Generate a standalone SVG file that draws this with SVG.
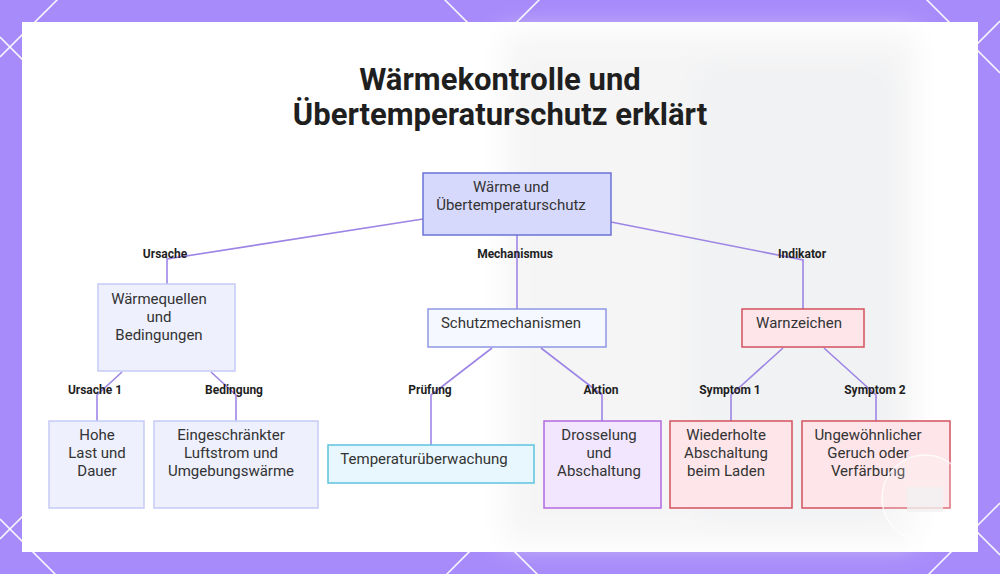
<svg xmlns="http://www.w3.org/2000/svg" width="1000" height="574" viewBox="0 0 1000 574">
<defs>
<style>
.grid{stroke:#ffffff;stroke-width:1.6;opacity:0.9;fill:none}
.title{font-family:Roboto,"Liberation Sans",sans-serif;font-weight:700;font-size:31px;fill:#1f1f1f;text-anchor:middle}
.nt{font-family:Roboto,"Liberation Sans",sans-serif;font-size:15px;fill:#333;text-anchor:middle}
.el{font-family:Roboto,"Liberation Sans",sans-serif;font-weight:700;font-size:12px;fill:#1f1f1f;text-anchor:middle}
.conn{stroke:#9d85e6;stroke-width:1.6;fill:none}
.root{fill:#d7d9fc;stroke:#6b73d6;stroke-width:1.5}
.cause{fill:#eef0fd;stroke:#c5cbf6;stroke-width:1.5}
.mech{fill:#f6f8ff;stroke:#8e97e4;stroke-width:1.5}
.temp{fill:#e8f7fd;stroke:#5cc3df;stroke-width:1.5}
.act{fill:#f1e6fd;stroke:#b36ae0;stroke-width:1.5}
.warn{fill:#fde5e9;stroke:#d3515e;stroke-width:1.5}
</style>
<filter id="blur" x="-20%" y="-20%" width="140%" height="140%"><feGaussianBlur stdDeviation="14"/></filter>
</defs>
<rect width="1000" height="574" fill="#a78bfa"/>
<g id="lattice">
<line class="grid" x1="0" y1="-927" x2="1000" y2="73"/>
<line class="grid" x1="0" y1="-445" x2="1000" y2="555"/>
<line class="grid" x1="0" y1="37" x2="1000" y2="1037"/>
<line class="grid" x1="0" y1="519" x2="1000" y2="1519"/>
<line class="grid" x1="0" y1="57" x2="1000" y2="-943"/>
<line class="grid" x1="0" y1="539" x2="1000" y2="-461"/>
<line class="grid" x1="0" y1="1021" x2="1000" y2="21"/>
<line class="grid" x1="0" y1="1503" x2="1000" y2="503"/>
</g>
<rect x="22" y="22" width="956" height="530" fill="#ffffff"/>
<g id="backdrop" filter="url(#blur)">
<rect x="505" y="35" width="410" height="505" fill="#f5f5f6"/>
<rect x="690" y="60" width="210" height="460" rx="30" fill="#f1f2f3"/>
</g>
<g id="title">
<text class="title" x="500" y="90">Wärmekontrolle und</text>
<text class="title" x="500" y="125">Übertemperaturschutz erklärt</text>
</g>
<g id="connectors">
<polyline class="conn" points="423,219 167,259 167,284"/>
<polyline class="conn" points="517,235 517,309"/>
<polyline class="conn" points="611,222 803,260 803,309"/>
<polyline class="conn" points="122,372 97,395 97,421"/>
<polyline class="conn" points="211,372 236,395 236,421"/>
<polyline class="conn" points="492,348 431,395 431,445"/>
<polyline class="conn" points="541,348 602,395 602,421"/>
<polyline class="conn" points="783,348 731,395 731,421"/>
<polyline class="conn" points="824,348 876,395 876,421"/>
<text class="el" x="165" y="258">Ursache</text>
<text class="el" x="515" y="258">Mechanismus</text>
<text class="el" x="802" y="258">Indikator</text>
<text class="el" x="95" y="394">Ursache 1</text>
<text class="el" x="234" y="394">Bedingung</text>
<text class="el" x="430" y="394">Prüfung</text>
<text class="el" x="601" y="394">Aktion</text>
<text class="el" x="730" y="394">Symptom 1</text>
<text class="el" x="875" y="394">Symptom 2</text>
</g>
<g id="n-root">
<rect class="root" x="423" y="173" width="188" height="62"/>
<text class="nt" x="511" y="192">Wärme und</text>
<text class="nt" x="511" y="210">Übertemperaturschutz</text>
</g>
<g id="n-quellen">
<rect class="cause" x="98" y="284" width="137" height="87"/>
<text class="nt" x="159" y="304">Wärmequellen</text>
<text class="nt" x="159" y="322">und</text>
<text class="nt" x="159" y="340">Bedingungen</text>
</g>
<g id="n-hohe">
<rect class="cause" x="49" y="421" width="95" height="87"/>
<text class="nt" x="97" y="440">Hohe</text>
<text class="nt" x="97" y="458">Last und</text>
<text class="nt" x="97" y="476">Dauer</text>
</g>
<g id="n-luft">
<rect class="cause" x="154" y="421" width="164" height="87"/>
<text class="nt" x="231" y="440">Eingeschränkter</text>
<text class="nt" x="231" y="458">Luftstrom und</text>
<text class="nt" x="231" y="476">Umgebungswärme</text>
</g>
<g id="n-schutz">
<rect class="mech" x="428" y="309" width="178" height="38"/>
<text class="nt" x="511" y="328">Schutzmechanismen</text>
</g>
<g id="n-temp">
<rect class="temp" x="328" y="445" width="206" height="38"/>
<text class="nt" x="424" y="464">Temperaturüberwachung</text>
</g>
<g id="n-drossel">
<rect class="act" x="544" y="421" width="117" height="87"/>
<text class="nt" x="599" y="440">Drosselung</text>
<text class="nt" x="599" y="458">und</text>
<text class="nt" x="599" y="476">Abschaltung</text>
</g>
<g id="n-warn">
<rect class="warn" x="742" y="309" width="122" height="38"/>
<text class="nt" x="799" y="328">Warnzeichen</text>
</g>
<g id="n-wieder">
<rect class="warn" x="670" y="421" width="122" height="87"/>
<text class="nt" x="726" y="440">Wiederholte</text>
<text class="nt" x="726" y="458">Abschaltung</text>
<text class="nt" x="726" y="476">beim Laden</text>
</g>
<g id="n-geruch">
<rect class="warn" x="802" y="421" width="148" height="87"/>
<text class="nt" x="868" y="440">Ungewöhnlicher</text>
<text class="nt" x="868" y="458">Geruch oder</text>
<text class="nt" x="868" y="476">Verfärbung</text>
</g>
<g id="badge" opacity="0.8">
<circle cx="925" cy="498" r="43" fill="#ffffff" fill-opacity="0.25" stroke="#ffffff" stroke-width="1.5"/>
<rect x="907" y="487" width="36" height="25" fill="#f2f2f2"/>
</g>
</svg>
